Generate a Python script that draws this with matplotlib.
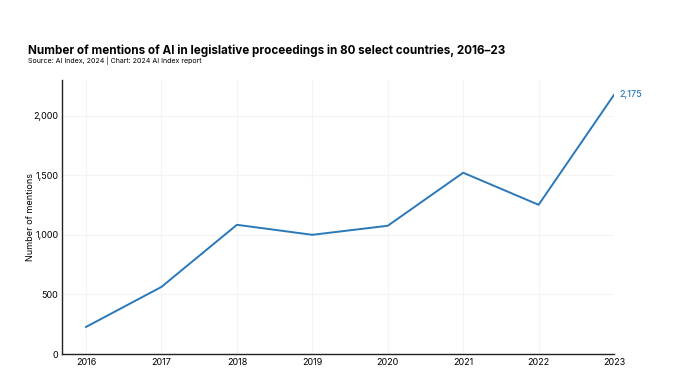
import matplotlib.pyplot as plt
from matplotlib.ticker import FuncFormatter

# Data
years = [2016, 2017, 2018, 2019, 2020, 2021, 2022, 2023]
mentions = [227, 563, 1084, 1000, 1076, 1521, 1252, 2175]
y_ticks = [0, 500, 1000, 1500, 2000]

plt.rcParams['font.family'] = ['Inter', 'DejaVu Sans']

line_color = '#2a78b9'

fig = plt.figure(figsize=(6.8, 3.75), dpi=100)
ax = fig.add_axes([0.091, 0.056, 0.812, 0.731])

ax.plot(years, mentions, color=line_color, linewidth=1.4)

# Label last point
ax.annotate(f'{mentions[-1]:,}', xy=(years[-1], mentions[-1]),
            xytext=(4, 0), textcoords='offset points',
            color=line_color, fontsize=6.5, fontweight='medium',
            va='center', ha='left')

ax.set_xlim(2015.68, 2023.0)
ax.set_ylim(0, 2300)
ax.set_xticks(years)
ax.set_yticks(y_ticks)
ax.yaxis.set_major_formatter(FuncFormatter(lambda v, p: f'{int(v):,}'))
ax.tick_params(length=0, labelsize=6.5)
ax.tick_params(axis='y', pad=2.5)
ax.tick_params(axis='x', pad=3)
ax.grid(True, color='#f4f4f4', linewidth=0.8)
ax.set_axisbelow(True)

for s in ['top', 'right']:
    ax.spines[s].set_visible(False)
for s in ['left', 'bottom']:
    ax.spines[s].set_color('#222222')
    ax.spines[s].set_linewidth(1.0)

ax.set_ylabel('Number of mentions', fontsize=6.5, labelpad=-1)

fig.text(0.041, 0.856, 'Number of mentions of AI in legislative proceedings in 80 select countries, 2016\u201323',
         fontsize=8.4, fontweight='bold', ha='left', va='baseline')
fig.text(0.041, 0.832, 'Source: AI Index, 2024 | Chart: 2024 AI Index report',
         fontsize=5.1, ha='left', va='baseline')

fig.savefig('out.png', dpi=100)
